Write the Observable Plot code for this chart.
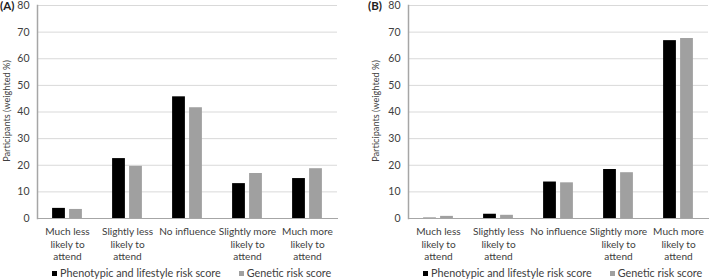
<!DOCTYPE html>
<html>
<head>
<meta charset="utf-8">
<script src="https://cdn.jsdelivr.net/npm/d3@7"></script>
<script src="https://cdn.jsdelivr.net/npm/@observablehq/plot@0.6"></script>
<style>
  html, body { margin: 0; padding: 0; background: #fff; }
  body { width: 709px; height: 280px; overflow: hidden; font-family: Lato, "Open Sans", sans-serif; }
  #wrap { display: flex; flex-direction: row; }
  .panel { position: relative; }
  .panel svg { overflow: visible; }
  .tag { position: absolute; top: 0px; font-weight: bold; font-size: 11.5px; line-height: 12px; color: #222; }
  .ytitle { position: absolute; font-size: 9.2px; line-height: 10px; color: #404040; white-space: nowrap; }
  .legend { display: flex; font-size: 10.8px; color: #404040; height: 14px; line-height: 14px; white-space: nowrap; }
  .legend span.sw { display: inline-block; width: 5px; height: 5px; margin-right: 3px; vertical-align: 1px; }
</style>
</head>
<body>
<div id="wrap"></div>
<script>
const categories = ["Much less likely to attend", "Slightly less likely to attend", "No influence", "Slightly more likely to attend", "Much more likely to attend"];
const tickLabels = ["Much less\nlikely to\nattend", "Slightly less\nlikely to\nattend", "No influence", "Slightly more\nlikely to\nattend", "Much more\nlikely to\nattend"];
const seriesNames = ["Phenotypic and lifestyle risk score", "Genetic risk score"];
const seriesColors = ["#000000", "#a0a0a0"];
const panelA_pheno = [3.8, 22.5, 45.7, 13.1, 15.0];
const panelA_genetic = [3.4, 19.6, 41.6, 16.9, 18.7];
const panelB_pheno = [0.1, 1.6, 13.7, 18.4, 66.8];
const panelB_genetic = [0.8, 1.2, 13.4, 17.2, 67.6];
const yTicks = [0, 10, 20, 30, 40, 50, 60, 70, 80];
const yTitle = "Participants (weighted %)";
const panels = [
  {tag: "(A)", pheno: panelA_pheno, genetic: panelA_genetic},
  {tag: "(B)", pheno: panelB_pheno, genetic: panelB_genetic}
];
const layouts = [
  {width: 355, marginLeft: 37, marginRight: 18, tagLeft: 0, titleX: 2, legendLeft: 52, legendGap: 18},
  {width: 354, marginLeft: 53, marginRight: 1, tagLeft: 13, titleX: 16, legendLeft: 68, legendGap: 18}
];

const wrap = document.getElementById("wrap");
panels.forEach((p, i) => {
  const L = layouts[i];
  const rows = [];
  categories.forEach((c, j) => {
    rows.push({cat: c, series: seriesNames[0], v: p.pheno[j]});
    rows.push({cat: c, series: seriesNames[1], v: p.genetic[j]});
  });
  const H = 266;
  const chart = Plot.plot({
    width: L.width,
    height: H,
    marginLeft: L.marginLeft,
    marginRight: L.marginRight,
    marginTop: 5,
    marginBottom: 48,
    style: {fontFamily: "Lato, 'Open Sans', sans-serif", fontSize: "10.5px", color: "#404040", background: "#fff"},
    x: {domain: categories, padding: 0, label: null, axis: null},
    y: {domain: [0, 80], label: null, axis: null},
    marks: [
      Plot.gridY(yTicks, {stroke: "#d9d9d9", strokeOpacity: 1, strokeWidth: 1}),
      Plot.barY(rows.filter(d => d.series === seriesNames[0]), {x: "cat", y: "v", fill: seriesColors[0], insetLeft: 23.6, insetRight: 23.6, dx: -8.5}),
      Plot.barY(rows.filter(d => d.series === seriesNames[1]), {x: "cat", y: "v", fill: seriesColors[1], insetLeft: 23.6, insetRight: 23.6, dx: 8.5}),
      Plot.frame({anchor: "left", stroke: "#a6a6a6", strokeWidth: 1.5}),
      Plot.frame({anchor: "bottom", stroke: "#a6a6a6", strokeWidth: 1}),
      Plot.axisY(yTicks, {tickSize: 0, tickPadding: 8, fill: "#404040", fontSize: 10.5, label: null}),
      Plot.text(categories, {x: d => d, y: () => 0, text: d => tickLabels[categories.indexOf(d)],
        lineAnchor: "top", dy: 8, fontSize: 10.1, lineHeight: 1.22, fill: "#404040", textAnchor: "middle"})
    ]
  });
  const div = document.createElement("div");
  div.className = "panel";
  div.style.width = L.width + "px";
  div.appendChild(chart);
  const tag = document.createElement("div");
  tag.className = "tag";
  tag.style.left = L.tagLeft + "px";
  tag.textContent = p.tag;
  div.appendChild(tag);
  const yt = document.createElement("div");
  yt.className = "ytitle";
  yt.style.left = L.titleX + "px";
  yt.style.top = "111px";
  yt.style.transform = "rotate(-90deg) translate(-50%, 0)";
  yt.style.transformOrigin = "0 0";
  yt.textContent = yTitle;
  div.appendChild(yt);
  const lg = document.createElement("div");
  lg.className = "legend";
  lg.style.paddingLeft = L.legendLeft + "px";
  seriesNames.forEach((s, k) => {
    const it = document.createElement("span");
    it.style.marginRight = L.legendGap + "px";
    it.innerHTML = `<span class="sw" style="background:${seriesColors[k]}"></span>${s}`;
    lg.appendChild(it);
  });
  div.appendChild(lg);
  wrap.appendChild(div);
});
</script>
</body>
</html>
